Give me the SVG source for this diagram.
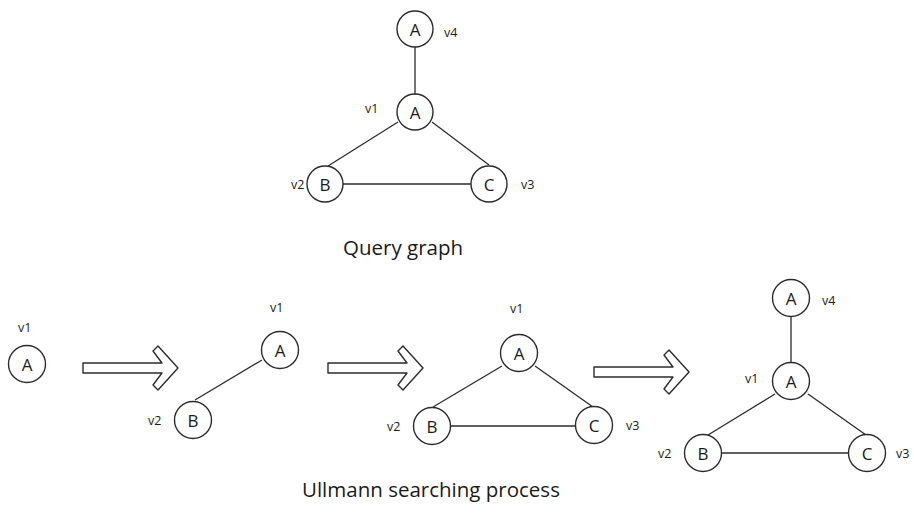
<svg xmlns="http://www.w3.org/2000/svg" width="914" height="513" viewBox="0 0 914 513">
  <style>
    .node circle { fill: #fff; stroke: #2b2b2b; stroke-width: 1.4; }
    .node text.sym { font-family: "Open Sans", "Liberation Sans", sans-serif; font-size: 17px; fill: #1a1a1a; text-anchor: middle; dominant-baseline: central; }
    .lbl { font-family: "Open Sans", "Liberation Sans", sans-serif; font-size: 12.5px; fill: #1a1a1a; }
    .edges line { stroke: #2b2b2b; stroke-width: 1.3; }
    .step { fill: #fff; stroke: #2b2b2b; stroke-width: 1.4; stroke-linejoin: round; }
    .caption { font-family: "Open Sans", "Liberation Sans", sans-serif; font-size: 20.5px; fill: #1a1a1a; }
  </style>
  <defs>
    <!-- hollow "implies" arrow, tip at origin -->
    <polygon id="stepArrow" points="-95,-5 -16,-5 -25,-17 -20,-22 0,0 -20,22 -25,17 -16,5 -95,5"/>
  </defs>

  <rect width="914" height="513" fill="#fff"/>

  <!-- Query graph -->
  <g class="edges" id="q-edges">
    <line x1="415" y1="47" x2="415" y2="94"/>
    <line x1="398" y1="122" x2="328" y2="166"/>
    <line x1="432" y1="122" x2="489" y2="165"/>
    <line x1="343" y1="184" x2="471" y2="184"/>
  </g>
  <g class="node" id="q-v4"><circle cx="415" cy="29" r="18"/><text class="sym" x="415" y="29">A</text><text class="lbl" x="444" y="37">v4</text></g>
  <g class="node" id="q-v1"><circle cx="415" cy="112" r="18"/><text class="sym" x="415" y="112">A</text><text class="lbl" x="365" y="113">v1</text></g>
  <g class="node" id="q-v2"><circle cx="325" cy="184" r="18"/><text class="sym" x="325" y="184">B</text><text class="lbl" x="291" y="189">v2</text></g>
  <g class="node" id="q-v3"><circle cx="489" cy="184" r="18"/><text class="sym" x="489" y="184">C</text><text class="lbl" x="521" y="189">v3</text></g>
  <text class="caption" x="343" y="255">Query graph</text>

  <!-- Ullmann searching process: stage 1 -->
  <g class="node" id="s1-v1"><circle cx="27" cy="364" r="18.5"/><text class="sym" x="27" y="364">A</text><text class="lbl" x="18" y="332">v1</text></g>

  <!-- step arrows -->
  <g id="arrows">
    <use href="#stepArrow" class="step" transform="translate(178,368)"/>
    <use href="#stepArrow" class="step" transform="translate(423,368)"/>
    <use href="#stepArrow" class="step" transform="translate(689,372)"/>
  </g>

  <!-- stage 2 -->
  <g class="edges" id="s2-edges">
    <line x1="262" y1="360" x2="195" y2="400"/>
  </g>
  <g class="node" id="s2-v1"><circle cx="280" cy="350" r="18.5"/><text class="sym" x="280" y="350">A</text><text class="lbl" x="270" y="312">v1</text></g>
  <g class="node" id="s2-v2"><circle cx="193" cy="420" r="18.5"/><text class="sym" x="193" y="420">B</text><text class="lbl" x="148" y="425">v2</text></g>

  <!-- stage 3 -->
  <g class="edges" id="s3-edges">
    <line x1="502" y1="366" x2="433" y2="407"/>
    <line x1="535" y1="366" x2="593" y2="407"/>
    <line x1="451" y1="426" x2="575" y2="426"/>
  </g>
  <g class="node" id="s3-v1"><circle cx="519" cy="353" r="18.5"/><text class="sym" x="519" y="353">A</text><text class="lbl" x="510" y="313">v1</text></g>
  <g class="node" id="s3-v2"><circle cx="432" cy="426" r="18.5"/><text class="sym" x="432" y="426">B</text><text class="lbl" x="387" y="431">v2</text></g>
  <g class="node" id="s3-v3"><circle cx="594" cy="425" r="18.5"/><text class="sym" x="594" y="425">C</text><text class="lbl" x="626" y="430">v3</text></g>

  <!-- stage 4 -->
  <g class="edges" id="s4-edges">
    <line x1="791" y1="317" x2="791" y2="362"/>
    <line x1="775" y1="394" x2="708" y2="435"/>
    <line x1="808" y1="394" x2="866" y2="435"/>
    <line x1="722" y1="453" x2="848" y2="453"/>
  </g>
  <g class="node" id="s4-v4"><circle cx="791" cy="298" r="18.5"/><text class="sym" x="791" y="298">A</text><text class="lbl" x="822" y="305">v4</text></g>
  <g class="node" id="s4-v1"><circle cx="791" cy="381" r="18.5"/><text class="sym" x="791" y="381">A</text><text class="lbl" x="745" y="383">v1</text></g>
  <g class="node" id="s4-v2"><circle cx="703" cy="453" r="18.5"/><text class="sym" x="703" y="453">B</text><text class="lbl" x="658" y="458">v2</text></g>
  <g class="node" id="s4-v3"><circle cx="867" cy="453" r="18.5"/><text class="sym" x="867" y="453">C</text><text class="lbl" x="896" y="458">v3</text></g>

  <text class="caption" x="302" y="497">Ullmann searching process</text>
</svg>
